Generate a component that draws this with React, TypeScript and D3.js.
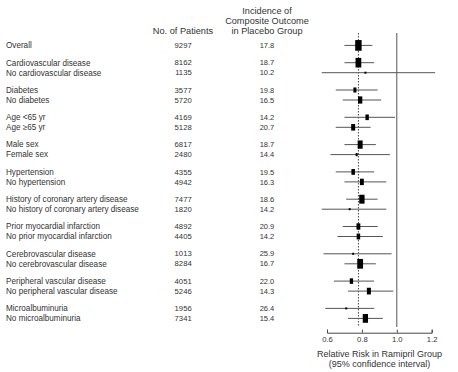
import * as d3 from 'd3';
import React, { useRef, useEffect } from 'react';

const subgroups = [
  'Overall',
  'Cardiovascular disease', 'No cardiovascular disease',
  'Diabetes', 'No diabetes',
  'Age <65 yr', 'Age \u226565 yr',
  'Male sex', 'Female sex',
  'Hypertension', 'No hypertension',
  'History of coronary artery disease', 'No history of coronary artery disease',
  'Prior myocardial infarction', 'No prior myocardial infarction',
  'Cerebrovascular disease', 'No cerebrovascular disease',
  'Peripheral vascular disease', 'No peripheral vascular disease',
  'Microalbuminuria', 'No microalbuminuria',
];
const patients = [9297, 8162, 1135, 3577, 5720, 4169, 5128, 6817, 2480, 4355, 4942,
  7477, 1820, 4892, 4405, 1013, 8284, 4051, 5246, 1956, 7341];
const incidence = ['17.8', '18.7', '10.2', '19.8', '16.5', '14.2', '20.7', '18.7', '14.4',
  '19.5', '16.3', '18.6', '14.2', '20.9', '14.2', '25.9', '16.7', '22.0', '14.3', '26.4', '15.4'];
const relRisk = [0.78, 0.78, 0.82, 0.76, 0.79, 0.83, 0.75, 0.79, 0.77, 0.75, 0.80,
  0.80, 0.73, 0.78, 0.78, 0.75, 0.79, 0.74, 0.84, 0.71, 0.82];
const ciLow = [0.70, 0.70, 0.57, 0.65, 0.69, 0.70, 0.65, 0.70, 0.62, 0.65, 0.70,
  0.71, 0.57, 0.69, 0.66, 0.58, 0.70, 0.64, 0.72, 0.59, 0.72];
const ciHigh = [0.86, 0.87, 1.22, 0.89, 0.91, 0.99, 0.85, 0.88, 0.96, 0.87, 0.94,
  0.89, 0.94, 0.89, 0.92, 0.97, 0.88, 0.87, 0.98, 0.87, 0.92];
const overallRisk = 0.78;
const xTicks = [0.6, 0.8, 1.0, 1.2];

const W = 458;
const H = 372;
const FONT = 'Liberation Sans, Arial, Helvetica, sans-serif';
const INK = '#333';

// row slot: overall sits alone, then pairs with a gap between them
const slot = (i) => (i === 0 ? 1 : Math.ceil(i / 2) * 2.73 + ((i - 1) % 2));

const App = () => {
  const axisRef = useRef(null);

  const x = d3.scaleLinear().domain([0.6, 1.2]).range([327, 431.7]);
  const y = d3.scaleLinear().domain([0, 28.3]).range([35.4, 318.4]);
  const boxH = d3.scaleLinear().domain([2000, 3000, 9300]).range([2, 4.5, 10.7]).clamp(true);

  useEffect(() => {
    const g = d3.select(axisRef.current);
    g.selectAll('*').remove();
    g.call(
      d3.axisBottom(x)
        .tickValues(xTicks)
        .tickFormat(d3.format('.1f'))
        .tickSizeInner(-3)
        .tickSizeOuter(-3)
        .tickPadding(4)
    );
    g.select('.domain').attr('stroke', '#444');
    g.selectAll('.tick line').attr('stroke', '#444');
    g.selectAll('.tick text')
      .attr('fill', INK)
      .attr('font-size', 7.7)
      .attr('font-family', FONT);
  }, []);

  return (
    <svg width={W} height={H} style={{ position: 'absolute', left: 0, top: 0, background: '#fff' }}
      fontFamily={FONT} fontSize={8.15} fill={INK}>
      <g fontSize={9.2} textAnchor="middle">
        <text x={183} y={33.5}>No. of Patients</text>
        <text x={267} y={14.2}>Incidence of</text>
        <text x={267} y={24}>Composite Outcome</text>
        <text x={267} y={33.8}>in Placebo Group</text>
      </g>

      {subgroups.map((s, i) => (
        <g key={s}>
          <text x={6} y={y(slot(i))} dy="0.35em">{s}</text>
          <text x={191.7} y={y(slot(i))} dy="0.35em" textAnchor="end" fontSize={7.7}>{patients[i]}</text>
          <text x={274.3} y={y(slot(i))} dy="0.35em" textAnchor="end" fontSize={7.5}>{incidence[i]}</text>
        </g>
      ))}

      <line x1={x(1)} x2={x(1)} y1={33} y2={327} stroke="#555" strokeWidth={1} />
      <line x1={x(overallRisk)} x2={x(overallRisk)} y1={33} y2={327} stroke="#444"
        strokeWidth={1} strokeDasharray="1.5,1.5" />

      {subgroups.map((s, i) => {
        const h = boxH(patients[i]);
        const w = Math.max(2, h * 0.6);
        return (
          <g key={'m' + s}>
            <line x1={x(ciLow[i])} x2={x(ciHigh[i])} y1={y(slot(i))} y2={y(slot(i))}
              stroke="#555" strokeWidth={1} />
            <rect x={x(relRisk[i]) - w / 2} y={y(slot(i)) - h / 2} width={w} height={h} fill="#000" />
          </g>
        );
      })}

      <g ref={axisRef} transform="translate(0,332.7)" />
      <g fontSize={9} textAnchor="middle">
        <text x={379.5} y={357}>Relative Risk in Ramipril Group</text>
        <text x={379.5} y={366.8}>(95% confidence interval)</text>
      </g>
    </svg>
  );
};

export default App;
